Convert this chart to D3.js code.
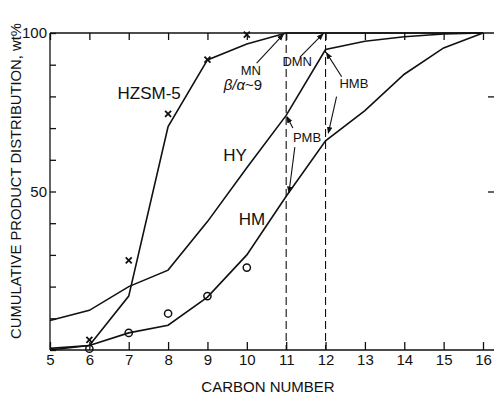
<!DOCTYPE html>
<meta charset="utf-8">
<title>Cumulative product distribution</title>
<script src="https://d3js.org/d3.v7.min.js"></script>
<style>
  body { margin: 0; background: #fff; }
  svg text { font-family: "Liberation Sans", Arial, sans-serif; fill: #111; }
  .axis line, .axis path { stroke: #111; stroke-width: 1.3; }
  .axis text { font-size: 15px; }
</style>
<body>
<script>
  // carbon numbers on the x axis
  var carbon = [5, 6, 7, 8, 9, 10, 11, 12, 13, 14, 15, 16];

  // curves, wt%
  var hzsm5 = [0.5, 1.4, 17, 70.5, 91.5, 96.5, 100, 100, 100, 100, 100, 100];
  var hy    = [9.3, 12.5, 20, 25.2, 40.5, 57.5, 74, 94.8, 97.4, 98.8, 99.7, 100];
  var hm    = [0, 1.4, 5.4, 7.8, 16.7, 30, 48.5, 66, 75.5, 87, 95.3, 100];

  // measured points
  var hzsmCarbon = [6, 7, 8, 9, 10];
  var hzsmPoints = [3.2, 28.3, 74.5, 91.6, 99.5];
  var hmCarbon   = [6, 7, 8, 9, 10];
  var hmPoints   = [0.4, 5.4, 11.5, 17, 26];

  var yTicks = [0, 10, 20, 30, 40, 50, 60, 70, 80, 90, 100];
  var yLabels = [50, 100];
  var rightTicks = [50, 80];
  var dashedAt = [11, 12];

  // labels [text, carbon, wt%]
  var curveLabels = [["HZSM-5", 7.52, 81], ["HY", 9.7, 61.5], ["HM", 10.13, 41.3]];
  var noteLabels = [["MN", 10.1, 88.3], ["DMN", 11.28, 90.9], ["HMB", 12.72, 84.2], ["PMB", 11.53, 66.9]];
  // arrows [fromC, fromW, toC, toW]
  var arrows = [
    [10.25, 90.5, 10.93, 99.6],
    [11.35, 92.4, 11.94, 99.8],
    [12.41, 86.2, 12.02, 93.8],
    [12.28, 79.9, 12.07, 68.4],
    [11.17, 70.0, 11.02, 73.6],
    [11.22, 64.0, 11.07, 49.6]
  ];

  var W = 494, H = 395;
  var x = d3.scaleLinear().domain([5, 16]).range([50, 483]);
  var y = d3.scaleLinear().domain([0, 100]).range([350, 33]);

  var svg = d3.select("body").append("svg")
      .attr("width", W).attr("height", H);

  var defs = svg.append("defs");
  defs.append("marker")
      .attr("id", "head")
      .attr("viewBox", "0 0 10 10")
      .attr("refX", 9).attr("refY", 5)
      .attr("markerWidth", 7).attr("markerHeight", 7)
      .attr("markerUnits", "userSpaceOnUse")
      .attr("orient", "auto")
    .append("path")
      .attr("d", "M0,1 L10,5 L0,9 Z")
      .attr("fill", "#111");

  // axes
  var xAxisG = svg.append("g").attr("class", "axis")
      .attr("transform", "translate(0," + y(0) + ")")
      .call(d3.axisBottom(x).tickValues(carbon).tickSize(-8).tickPadding(4).tickFormat(d3.format("d")));
  var topG = svg.append("g").attr("class", "axis")
      .attr("transform", "translate(0," + y(100) + ")")
      .call(d3.axisTop(x).tickValues(carbon).tickSize(-7).tickFormat(""));
  var yAxisG = svg.append("g").attr("class", "axis")
      .attr("transform", "translate(" + x(5) + ",0)")
      .call(d3.axisLeft(y).tickValues(yTicks).tickSize(-6).tickPadding(3)
        .tickFormat(function (d) { return yLabels.indexOf(d) >= 0 ? d : ""; }));
  var rightG = svg.append("g").attr("class", "axis")
      .attr("transform", "translate(" + W + ",0)")
      .call(d3.axisRight(y).tickValues(rightTicks).tickSize(-6).tickFormat(""));
  rightG.select(".domain").remove();

  // extend horizontal frame lines to the page edge
  [xAxisG, topG].forEach(function (g) {
    g.select(".domain").remove();
    g.append("line")
      .attr("x1", x(5)).attr("x2", W).attr("y1", 0).attr("y2", 0);
  });
  yAxisG.select(".domain").attr("d", "M0," + y(0) + "V" + y(100));

  // dashed vertical guides
  svg.selectAll(".guide").data(dashedAt).enter().append("line")
      .attr("x1", function (d) { return x(d); })
      .attr("x2", function (d) { return x(d); })
      .attr("y1", y(100)).attr("y2", y(0))
      .attr("stroke", "#111").attr("stroke-width", 1.1)
      .attr("stroke-dasharray", "8,4");

  var line = d3.line()
      .x(function (d, i) { return x(carbon[i]); })
      .y(function (d) { return y(d); });

  [hzsm5, hy, hm].forEach(function (s) {
    svg.append("path")
      .attr("d", line(s))
      .attr("fill", "none")
      .attr("stroke", "#111")
      .attr("stroke-width", 1.6);
  });

  // crosses
  svg.selectAll(".cross").data(hzsmPoints).enter().append("path")
      .attr("transform", function (d, i) { return "translate(" + x(hzsmCarbon[i]) + "," + y(d) + ")"; })
      .attr("d", "M-3,-3L3,3M-3,3L3,-3")
      .attr("stroke", "#111").attr("stroke-width", 1.8);

  // circles
  svg.selectAll(".circ").data(hmPoints).enter().append("circle")
      .attr("cx", function (d, i) { return x(hmCarbon[i]); })
      .attr("cy", function (d) { return y(d); })
      .attr("r", 3.6)
      .attr("fill", "none").attr("stroke", "#111").attr("stroke-width", 1.5);

  // arrows
  svg.selectAll(".arrow").data(arrows).enter().append("line")
      .attr("x1", function (d) { return x(d[0]); })
      .attr("y1", function (d) { return y(d[1]); })
      .attr("x2", function (d) { return x(d[2]); })
      .attr("y2", function (d) { return y(d[3]); })
      .attr("stroke", "#111").attr("stroke-width", 1.1)
      .attr("marker-end", "url(#head)");

  // labels
  svg.selectAll(".clab").data(curveLabels).enter().append("text")
      .attr("x", function (d) { return x(d[1]); })
      .attr("y", function (d) { return y(d[2]); })
      .attr("text-anchor", "middle").attr("dy", "0.35em")
      .style("font-size", "17px")
      .text(function (d) { return d[0]; });

  svg.selectAll(".nlab").data(noteLabels).enter().append("text")
      .attr("x", function (d) { return x(d[1]); })
      .attr("y", function (d) { return y(d[2]); })
      .attr("text-anchor", "middle").attr("dy", "0.35em")
      .style("font-size", "13px")
      .text(function (d) { return d[0]; });

  var beta = svg.append("text")
      .attr("x", x(9.9)).attr("y", y(83.6))
      .attr("text-anchor", "middle").attr("dy", "0.35em")
      .style("font-size", "15px");
  beta.append("tspan").style("font-style", "italic").text("β/α");
  beta.append("tspan").text("~9");

  // axis titles
  svg.append("text")
      .attr("x", (x(5) + W) / 2 - 4).attr("y", 387)
      .attr("text-anchor", "middle").attr("dy", "0.35em")
      .style("font-size", "15px")
      .text("CARBON NUMBER");

  svg.append("text")
      .attr("transform", "translate(16,181) rotate(-90)")
      .attr("text-anchor", "middle").attr("dy", "0.35em")
      .style("font-size", "14.8px")
      .text("CUMULATIVE PRODUCT DISTRIBUTION, wt%");
</script>
</body>
